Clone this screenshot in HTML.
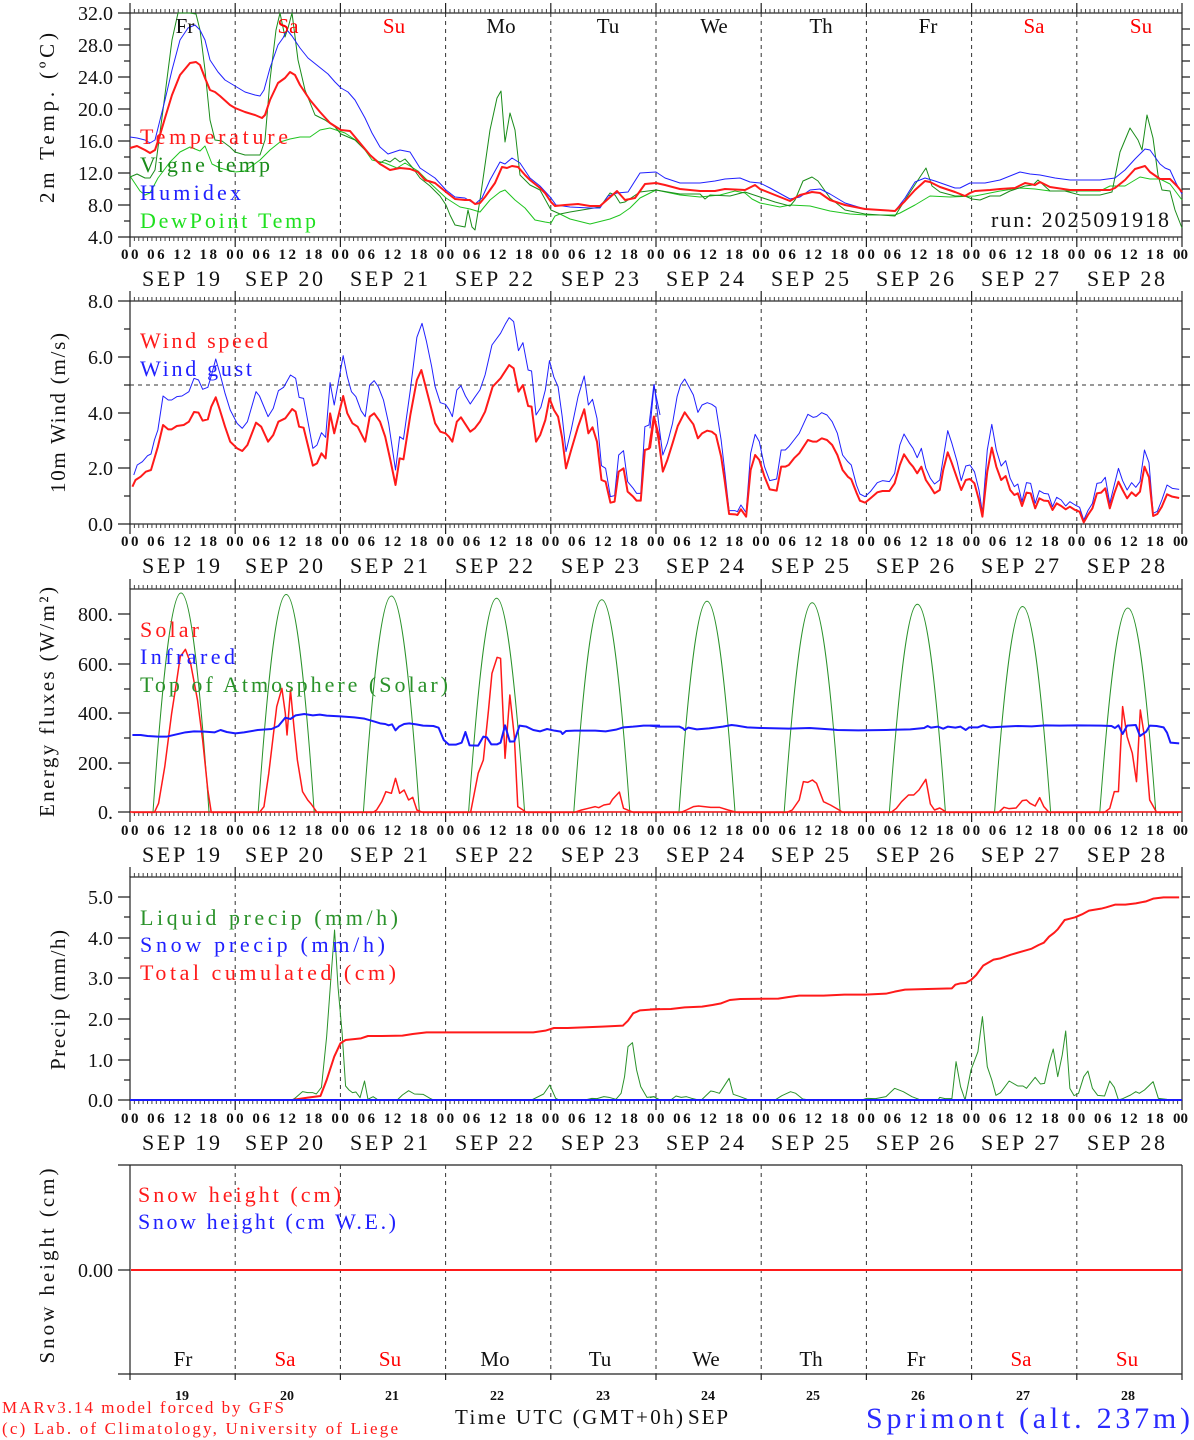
<!DOCTYPE html>
<html><head><meta charset="utf-8"><style>
html,body{margin:0;padding:0;background:#fff}
svg{display:block}
text{font-family:"Liberation Serif",serif}
.ve{vector-effect:non-scaling-stroke;fill:none;stroke-linejoin:round}
</style></head><body>
<svg width="1194" height="1440" viewBox="0 0 1194 1440" xmlns="http://www.w3.org/2000/svg">
<rect width="1194" height="1440" fill="#fff"/>

<g stroke="#222" stroke-width="1.2" fill="none">
<rect x="130" y="13" width="1052" height="224"/>
<rect x="130" y="301" width="1052" height="223"/>
<rect x="130" y="589" width="1052" height="223"/>
<rect x="130" y="877" width="1052" height="223"/>
<line x1="118" y1="1165" x2="1182" y2="1165"/>
<line x1="118" y1="1374" x2="1182" y2="1374"/>
<line x1="130" y1="1165" x2="130" y2="1380"/>
<line x1="1182" y1="1165" x2="1182" y2="1380"/>
</g>

<g stroke="#444" stroke-width="4" stroke-dasharray="1 3.3833">
<line x1="129.5" y1="11" x2="1183" y2="11"/><line x1="129.5" y1="239" x2="1183" y2="239"/>
<line x1="129.5" y1="299" x2="1183" y2="299"/><line x1="129.5" y1="526" x2="1183" y2="526"/>
<line x1="129.5" y1="587" x2="1183" y2="587"/><line x1="129.5" y1="814" x2="1183" y2="814"/>
<line x1="129.5" y1="875" x2="1183" y2="875"/><line x1="129.5" y1="1102" x2="1183" y2="1102"/>
</g>
<g stroke="#222" stroke-width="1.2">
<path d="M130,3V13M235.2,3V13M340.4,3V13M445.6,3V13M550.8,3V13M656,3V13M761.2,3V13M866.4,3V13M971.6,3V13M1076.8,3V13M1182,3V13
M130,237V247M235.2,237V247M340.4,237V247M445.6,237V247M550.8,237V247M656,237V247M761.2,237V247M866.4,237V247M971.6,237V247M1076.8,237V247M1182,237V247
M130,291V301M235.2,291V301M340.4,291V301M445.6,291V301M550.8,291V301M656,291V301M761.2,291V301M866.4,291V301M971.6,291V301M1076.8,291V301M1182,291V301
M130,524V534M235.2,524V534M340.4,524V534M445.6,524V534M550.8,524V534M656,524V534M761.2,524V534M866.4,524V534M971.6,524V534M1076.8,524V534M1182,524V534
M130,579V589M235.2,579V589M340.4,579V589M445.6,579V589M550.8,579V589M656,579V589M761.2,579V589M866.4,579V589M971.6,579V589M1076.8,579V589M1182,579V589
M130,812V822M235.2,812V822M340.4,812V822M445.6,812V822M550.8,812V822M656,812V822M761.2,812V822M866.4,812V822M971.6,812V822M1076.8,812V822M1182,812V822
M130,867V877M235.2,867V877M340.4,867V877M445.6,867V877M550.8,867V877M656,867V877M761.2,867V877M866.4,867V877M971.6,867V877M1076.8,867V877M1182,867V877
M130,1100V1110M235.2,1100V1110M340.4,1100V1110M445.6,1100V1110M550.8,1100V1110M656,1100V1110M761.2,1100V1110M866.4,1100V1110M971.6,1100V1110M1076.8,1100V1110M1182,1100V1110
M235.2,1374V1380M340.4,1374V1380M445.6,1374V1380M550.8,1374V1380M656,1374V1380M761.2,1374V1380M866.4,1374V1380M971.6,1374V1380M1076.8,1374V1380"/>
<path d="M118,13H130M124,29H130M118,45H130M124,61H130M118,77H130M124,93H130M118,109H130M124,125H130M118,141H130M124,157H130M118,173H130M124,189H130M118,205H130M124,221H130M118,237H130
M1182,29H1190M1182,45H1190M1182,61H1190M1182,77H1190M1182,93H1190M1182,109H1190M1182,125H1190M1182,141H1190M1182,157H1190M1182,173H1190M1182,189H1190M1182,205H1190M1182,221H1190
M118,301H130M124,329H130M118,357H130M124,385H130M118,413H130M124,440H130M118,468H130M124,496H130M118,524H130
M1182,329H1190M1182,357H1190M1182,385H1190M1182,413H1190M1182,440H1190M1182,468H1190M1182,496H1190
M124,639H130M118,614H130M118,664H130M124,689H130M118,713H130M124,738H130M118,763H130M124,788H130M118,812H130
M1182,614H1190M1182,639H1190M1182,664H1190M1182,689H1190M1182,713H1190M1182,738H1190M1182,763H1190M1182,788H1190
M118,897H130M124,917H130M118,938H130M124,958H130M118,978H130M124,999H130M118,1019H130M124,1039H130M118,1060H130M124,1080H130M118,1100H130
M1182,897H1190M1182,917H1190M1182,938H1190M1182,958H1190M1182,978H1190M1182,999H1190M1182,1019H1190M1182,1039H1190M1182,1060H1190M1182,1080H1190
M118,1270H130"/>
</g>

<g stroke="#333" stroke-width="1" stroke-dasharray="4 4">
<path d="M235.2,13V237M340.4,13V237M445.6,13V237M550.8,13V237M656,13V237M761.2,13V237M866.4,13V237M971.6,13V237M1076.8,13V237
M235.2,301V524M340.4,301V524M445.6,301V524M550.8,301V524M656,301V524M761.2,301V524M866.4,301V524M971.6,301V524M1076.8,301V524
M235.2,589V812M340.4,589V812M445.6,589V812M550.8,589V812M656,589V812M761.2,589V812M866.4,589V812M971.6,589V812M1076.8,589V812
M235.2,877V1100M340.4,877V1100M445.6,877V1100M550.8,877V1100M656,877V1100M761.2,877V1100M866.4,877V1100M971.6,877V1100M1076.8,877V1100
M235.2,1165V1374M340.4,1165V1374M445.6,1165V1374M550.8,1165V1374M656,1165V1374M761.2,1165V1374M866.4,1165V1374M971.6,1165V1374M1076.8,1165V1374
M130,385H1182"/>
</g>

<!-- PANEL 1 -->
<g fill="none" stroke-linejoin="round">
<polyline stroke="#1fc41f" stroke-width="1" points="130,176 140,191 145,195 150,193 158,178 170,162 180,152 190,147 200,151 205,146 212,164 220,168 235,172 245,171 260,160 270,150 280,142 290,139 300,137 310,137 320,130 330,128 345,133 360,143 372,160 385,163 397,168 405,163 418,171 430,183 446,198 460,207 470,209 480,212 490,200 500,192 505,190 515,200 525,208 535,220 545,222 551,223 555,216 560,214 570,219 590,224 610,219 620,215 630,208 640,198 656,190 680,195 700,197 720,195 735,191 745,193 752,199 760,203 780,207 790,205 810,206 830,211 850,214 866,215 895,215 900,213 915,205 930,196 950,197 975,196 1000,191 1020,188 1035,189 1050,191 1070,191 1100,191 1110,186 1125,186 1135,180 1140,177 1150,179 1160,179 1170,184 1182,200"/>
<polyline stroke="#1a8c1a" stroke-width="1" points="130,177 137,174 145,178 150,178 155,170 163,110 172,40 178,13 190,13 196,14 200,30 205,70 210,120 215,140 222,141 230,147 235,152 245,155 260,155 265,140 270,80 276,30 280,13 285,37 288,28 292,13 298,60 305,90 315,115 325,120 335,127 341,134 355,140 370,155 380,163 385,160 390,162 395,158 400,162 405,159 412,167 420,178 430,186 440,196 446,205 450,215 455,225 465,227 468,210 472,227 475,230 480,200 490,130 497,98 501,91 505,142 510,113 515,130 520,175 530,185 540,190 551,210 560,214 570,212 600,207 610,193 615,195 620,203 625,202 640,192 656,190 680,194 700,194 705,199 710,195 730,196 745,192 760,197 775,202 790,206 795,200 803,181 812,177 818,181 830,198 845,210 865,214 895,216 905,200 918,180 926,168 932,186 940,192 955,196 965,196 972,199 980,200 990,196 1000,196 1010,191 1025,186 1033,185 1038,180 1050,191 1065,191 1080,195 1100,195 1112,192 1120,152 1130,128 1138,140 1142,150 1147,115 1153,138 1158,175 1162,190 1170,191 1175,210 1182,228"/>
<polyline stroke="#2020ff" stroke-width="1" points="130,137 137,138 145,140 150,143 155,140 160,120 165,100 172,70 180,40 188,28 195,25 200,30 205,40 210,60 218,72 225,80 235,86 245,92 255,95 260,96 264,90 270,68 278,45 283,38 287,30 292,36 300,48 308,58 318,66 328,74 335,82 341,88 348,92 355,100 365,118 372,133 380,147 388,154 400,150 410,152 420,168 435,178 446,190 455,197 465,198 475,204 482,198 490,180 500,162 505,164 512,158 520,163 530,178 540,186 551,198 556,205 570,207 590,208 600,208 608,196 617,193 628,192 640,173 656,172 665,178 680,183 700,183 715,181 725,179 740,178 750,182 760,183 770,188 790,199 800,197 810,190 820,189 830,194 845,203 865,209 895,211 905,198 915,182 925,178 935,181 955,188 960,188 970,183 985,183 1000,180 1020,172 1030,174 1040,175 1055,178 1070,180 1100,180 1115,178 1125,170 1135,159 1140,154 1145,149 1150,150 1160,164 1165,168 1170,170 1176,183 1182,194"/>
<polyline stroke="#ff1a1a" stroke-width="2" points="130,148 137,146 145,150 150,153 155,150 160,135 165,118 172,95 180,75 190,63 196,62 200,65 205,78 210,90 215,92 220,96 230,105 235,108 245,112 255,115 262,118 265,115 270,100 278,83 285,78 290,72 295,75 300,85 310,100 320,112 330,123 341,130 350,131 360,143 370,155 380,164 390,170 400,168 410,169 418,172 425,180 435,183 446,192 455,199 465,200 470,200 475,204 480,203 485,197 495,183 502,167 507,168 512,166 518,167 525,175 530,180 540,188 545,193 551,202 555,206 565,205 578,204 590,206 600,206 608,199 617,191 625,200 635,198 645,184 656,183 665,185 680,189 700,191 715,191 725,189 745,190 755,185 760,189 770,193 790,201 800,195 812,192 820,193 830,200 845,205 865,209 895,211 905,201 915,190 925,181 930,182 940,187 955,192 965,196 970,193 975,191 990,190 1000,189 1015,188 1025,183 1035,185 1040,182 1050,187 1070,190 1110,190 1115,188 1125,180 1135,169 1145,166 1150,172 1160,179 1170,179 1177,186 1182,192"/>
</g>

<!-- PANEL 2 -->
<g transform="translate(120,290) scale(0.3444,0.33333)">
<polyline class="ve" stroke="#2020ff" stroke-width="1" points="40,555 50,525 65,515 80,497 90,492 100,450 110,420 125,318 140,330 150,330 165,320 180,318 200,305 215,265 228,270 240,298 255,292 265,258 278,207 290,250 305,310 320,360 340,400 355,415 370,395 395,305 405,318 430,380 445,355 460,302 475,292 495,255 510,265 520,322 533,325 560,475 572,465 585,428 597,442 610,278 622,345 648,197 660,260 672,305 685,320 700,362 712,380 725,285 738,272 750,290 765,330 780,400 800,540 812,440 823,448 843,300 862,142 877,100 890,155 905,230 915,290 930,338 945,343 955,358 965,380 978,300 990,287 1003,318 1017,342 1030,322 1045,300 1060,255 1080,165 1105,130 1120,100 1130,83 1143,95 1157,182 1170,158 1185,240 1195,243 1208,375 1222,352 1235,300 1247,212 1260,262 1272,290 1284,380 1295,485 1310,420 1330,320 1348,258 1360,345 1372,328 1385,385 1398,527 1410,535 1424,620 1436,617 1448,495 1462,482 1474,575 1490,595 1500,610 1512,610 1524,410 1536,405 1550,285 1568,375"/>
<polyline class="ve" stroke="#ff1a1a" stroke-width="2" points="36,590 45,570 60,560 75,545 90,540 110,470 125,405 140,418 150,418 165,408 185,405 200,395 215,366 228,368 240,392 255,388 265,350 278,322 290,360 305,410 320,455 340,475 355,483 370,465 395,398 410,410 430,455 445,435 460,395 480,385 500,357 510,365 520,410 533,413 560,527 572,520 585,490 597,505 610,370 622,430 648,318 660,370 675,400 690,410 712,455 725,380 738,370 755,395 770,440 785,510 800,585 812,505 823,508 843,375 862,270 875,240 890,300 905,360 915,400 930,425 945,430 955,440 965,455 978,395 990,382 1000,398 1017,425 1030,415 1045,395 1060,365 1082,290 1105,265 1130,225 1143,235 1157,305 1170,285 1185,348 1195,350 1208,455 1220,435 1235,390 1247,325 1260,360 1272,380 1284,445 1295,535 1310,480 1330,410 1348,358 1360,430 1372,412 1385,455 1398,570 1410,575 1424,638 1436,635 1448,545 1462,535 1474,605 1490,620 1500,632 1512,632 1524,480 1536,476 1550,380 1568,450"/>
</g>
<g transform="translate(650,290) scale(0.347,0.33333)">
<polyline class="ve" stroke="#2020ff" stroke-width="1" points="0,415 12,283 25,400 37,495 50,460 65,400 78,320 88,285 100,267 112,290 125,315 138,367 150,345 165,338 178,343 190,352 205,450 215,540 228,662 245,662 252,665 262,645 277,668 290,490 303,433 315,455 330,530 345,572 365,567 378,480 390,480 400,470 415,450 430,430 455,373 470,382 480,380 495,368 510,375 525,395 540,430 555,495 570,515 580,525 595,585 605,612 620,620 635,605 655,578 670,572 690,575 705,550 720,465 732,432 748,460 758,475 770,503 782,475 795,535 808,565 820,582 835,570 845,505 858,422 870,460 885,515 897,572 910,528 922,525 935,545 948,600 958,668 972,480 985,403 998,480 1012,528 1025,512 1038,565 1050,590 1060,582 1072,635 1085,578 1097,580 1110,640 1122,602 1135,610 1148,612 1160,650 1172,622 1185,630 1198,648 1210,635 1225,645 1238,652 1250,690 1262,662 1275,640 1288,580 1300,578 1312,562 1325,640 1338,585 1350,535 1362,572 1375,600 1388,578 1400,592 1412,575 1425,480 1438,518 1450,670 1462,664 1475,630 1490,585 1505,595 1525,598"/>
<polyline class="ve" stroke="#ff1a1a" stroke-width="2" points="0,475 12,380 25,450 37,545 50,510 65,460 80,408 100,367 112,385 125,403 138,445 150,430 165,422 178,425 190,435 205,500 215,570 228,672 245,673 252,675 262,658 277,680 290,540 303,495 315,510 330,560 345,598 365,602 378,530 390,530 400,525 415,505 430,490 455,450 470,455 480,455 495,445 510,450 525,465 540,495 555,540 570,560 580,568 595,608 605,632 620,638 635,625 655,607 670,603 690,603 705,580 720,525 732,493 748,518 758,530 770,550 782,530 795,570 808,590 820,610 835,600 845,540 858,487 870,520 885,565 897,600 910,570 922,567 935,580 948,630 958,680 972,545 985,473 998,530 1012,570 1025,558 1038,600 1050,615 1060,610 1072,648 1085,608 1097,610 1110,655 1122,625 1135,632 1148,633 1160,660 1172,640 1185,648 1198,658 1210,650 1225,660 1238,665 1250,697 1262,675 1275,655 1288,610 1300,608 1312,595 1325,655 1338,610 1350,575 1362,600 1375,625 1388,607 1400,618 1412,605 1425,530 1438,562 1450,678 1462,672 1475,650 1490,613 1505,620 1525,624"/>
</g>

<!-- PANEL 3 -->
<line x1="130" y1="812" x2="1182" y2="812" stroke="#ff1a1a" stroke-width="1.5"/>
<g fill="none" stroke="#2a922a" stroke-width="1">
<path d="M153,812c20.4,-292 35.6,-292 56,0"/>
<path d="M258.2,812c20.4,-290 35.6,-290 56,0"/>
<path d="M363.4,812c20.4,-288 35.6,-288 56,0"/>
<path d="M468.6,812c20.4,-285 35.6,-285 56,0"/>
<path d="M573.8,812c20.4,-283 35.6,-283 56,0"/>
<path d="M679,812c20.4,-281 35.6,-281 56,0"/>
<path d="M784.2,812c20.4,-279 35.6,-279 56,0"/>
<path d="M889.4,812c20.4,-277 35.6,-277 56,0"/>
<path d="M994.6,812c20.4,-274 35.6,-274 56,0"/>
<path d="M1099.8,812c20.4,-272 35.6,-272 56,0"/>
</g>
<g transform="translate(120,580) scale(0.3444,0.33333)">
<polyline class="ve" stroke="#ff1a1a" stroke-width="1.5" points="36,697 100,697 112,670 130,560 150,400 165,300 175,230 190,208 205,250 225,360 240,480 255,630 265,697 405,697 418,680 432,580 455,380 470,325 480,400 485,465 495,330 505,440 515,540 530,635 545,660 555,672 572,697 735,697 745,690 760,665 772,635 788,640 800,595 812,640 825,630 838,660 850,652 862,690 878,697 1018,697 1040,580 1055,540 1070,390 1080,280 1095,232 1105,235 1118,535 1132,345 1145,470 1155,680 1170,690 1180,697 1320,697 1340,690 1360,685 1380,680 1390,683 1405,675 1422,672 1430,658 1450,636 1462,685 1490,697 1568,697"/>
<polyline class="ve" stroke="#1a1aff" stroke-width="2" points="36,465 60,465 80,468 110,470 135,470 160,464 190,457 215,454 245,455 275,457 292,450 310,456 335,460 360,457 400,450 440,447 460,438 480,413 495,417 510,406 535,402 560,406 580,404 600,407 640,409 680,412 710,416 740,425 755,430 770,432 780,436 790,433 800,451 810,440 825,432 840,430 860,433 880,437 910,438 925,443 940,480 955,494 975,494 992,488 1003,456 1015,496 1040,497 1055,470 1065,472 1078,493 1095,493 1105,488 1118,436 1132,485 1145,484 1160,437 1180,440 1200,450 1220,454 1240,447 1262,452 1280,455 1285,462 1295,453 1320,452 1350,452 1380,452 1410,454 1440,449 1462,442 1490,440 1520,437 1568,437"/>
</g>
<g transform="translate(650,580) scale(0.347,0.33333)">
<polyline class="ve" stroke="#ff1a1a" stroke-width="1.5" points="0,697 90,697 105,690 125,680 140,678 175,682 200,682 225,690 250,697 395,697 410,690 430,660 442,605 455,607 468,600 480,610 500,665 520,675 545,690 555,697 695,697 710,685 725,665 745,645 760,645 775,630 795,598 808,672 820,690 835,684 855,697 1005,697 1020,682 1035,686 1055,684 1073,662 1085,660 1095,670 1110,678 1123,653 1135,680 1150,697 1310,697 1325,685 1338,635 1350,635 1362,380 1375,470 1390,520 1402,605 1413,390 1425,470 1440,660 1460,697 1525,697"/>
<polyline class="ve" stroke="#1a1aff" stroke-width="2" points="0,437 25,440 50,440 85,440 95,445 100,450 110,443 135,448 170,445 210,440 235,435 250,437 280,442 320,444 400,446 460,444 520,448 540,450 600,451 680,450 750,448 790,444 800,438 810,443 830,440 845,446 858,440 880,443 895,440 910,450 920,442 945,442 960,436 980,442 1020,440 1060,438 1100,439 1140,436 1180,437 1230,436 1300,437 1330,438 1340,444 1350,436 1362,462 1375,437 1400,435 1412,468 1430,455 1440,437 1460,438 1480,442 1490,458 1500,488 1525,490"/>
</g>

<!-- PANEL 4 -->
<g transform="translate(120,870) scale(0.3444,0.33333)">
<polyline class="ve" stroke="#2a922a" stroke-width="1" points="36,690 500,690 510,683 530,665 545,668 560,668 570,672 585,652 600,500 612,330 623,180 633,350 645,490 655,648 665,660 675,668 685,666 697,683 710,633 720,688 735,680 750,690 805,690 820,675 838,662 855,672 880,673 900,685 910,690 1195,690 1230,672 1248,645 1265,685 1275,690 1350,690 1370,685 1385,686 1405,680 1420,682 1440,688 1455,670 1465,620 1475,530 1488,518 1500,600 1512,650 1530,682 1550,680 1568,690"/>
<polyline class="ve" stroke="#ff1a1a" stroke-width="2" points="36,690 500,690 545,683 582,678 600,630 622,560 640,520 655,510 700,505 720,498 760,498 820,497 850,492 890,487 1200,487 1235,482 1260,474 1300,474 1400,470 1460,467 1475,452 1490,430 1510,421 1540,419 1568,417"/>
</g>
<g transform="translate(650,870) scale(0.347,0.33333)">
<polyline class="ve" stroke="#2a922a" stroke-width="1" points="0,683 12,680 25,690 60,690 75,678 90,682 105,680 120,685 140,690 150,688 175,663 185,665 200,670 228,625 240,673 260,680 280,688 310,690 360,690 380,677 405,665 420,670 440,687 460,690 610,690 625,685 650,686 680,680 705,655 730,665 755,680 775,688 830,690 835,682 850,686 870,686 882,575 895,650 908,690 925,600 945,545 958,440 972,590 985,630 997,676 1010,668 1035,633 1060,648 1075,648 1085,655 1110,622 1125,642 1137,640 1150,580 1162,537 1175,620 1188,555 1198,483 1210,655 1222,677 1235,670 1250,620 1262,603 1275,655 1290,676 1310,678 1325,633 1338,652 1350,690 1362,686 1385,675 1400,665 1410,670 1425,660 1450,635 1465,685 1490,688 1525,690"/>
<polyline class="ve" stroke="#ff1a1a" stroke-width="2" points="0,418 60,417 100,412 150,410 180,405 205,400 230,390 260,387 370,386 400,381 430,377 500,377 560,374 620,374 680,371 705,365 735,359 800,357 870,355 880,344 895,340 910,339 925,330 940,315 960,287 990,269 1010,265 1040,254 1080,242 1100,236 1120,225 1135,218 1150,200 1165,188 1175,178 1195,150 1210,146 1225,142 1245,133 1265,122 1300,116 1315,112 1340,104 1370,104 1400,100 1430,94 1450,86 1480,82 1525,82"/>
</g>
<line x1="130" y1="1100" x2="1182" y2="1100" stroke="#1a1aff" stroke-width="2"/>

<!-- PANEL 5 -->
<line x1="131" y1="1270" x2="1182" y2="1270" stroke="#ff1a1a" stroke-width="2"/>

<!-- TEXT -->
<g font-size="21" text-anchor="middle">
<text x="185" y="33" fill="#111">Fr</text><text x="288" y="33" fill="#f00">Sa</text><text x="394" y="33" fill="#f00">Su</text><text x="501" y="33" fill="#111">Mo</text><text x="608" y="33" fill="#111">Tu</text><text x="714" y="33" fill="#111">We</text><text x="821" y="33" fill="#111">Th</text><text x="928" y="33" fill="#111">Fr</text><text x="1034" y="33" fill="#f00">Sa</text><text x="1141" y="33" fill="#f00">Su</text>
<text x="183" y="1366" fill="#111">Fr</text><text x="285" y="1366" fill="#f00">Sa</text><text x="390" y="1366" fill="#f00">Su</text><text x="495" y="1366" fill="#111">Mo</text><text x="600" y="1366" fill="#111">Tu</text><text x="706" y="1366" fill="#111">We</text><text x="811" y="1366" fill="#111">Th</text><text x="916" y="1366" fill="#111">Fr</text><text x="1021" y="1366" fill="#f00">Sa</text><text x="1127" y="1366" fill="#f00">Su</text>
</g>
<g font-size="14" text-anchor="middle" fill="#111" font-weight="bold">
<text x="182" y="1400">19</text><text x="287" y="1400">20</text><text x="392" y="1400">21</text><text x="497" y="1400">22</text><text x="603" y="1400">23</text><text x="708" y="1400">24</text><text x="813" y="1400">25</text><text x="918" y="1400">26</text><text x="1023" y="1400">27</text><text x="1128" y="1400">28</text>
</g>

<g font-size="15" fill="#111" font-weight="bold">
<text x="121" y="259" textLength="96" lengthAdjust="spacing">00 06 12 18</text><text x="226.2" y="259" textLength="96" lengthAdjust="spacing">00 06 12 18</text><text x="331.4" y="259" textLength="96" lengthAdjust="spacing">00 06 12 18</text><text x="436.6" y="259" textLength="96" lengthAdjust="spacing">00 06 12 18</text><text x="541.8" y="259" textLength="96" lengthAdjust="spacing">00 06 12 18</text><text x="647" y="259" textLength="96" lengthAdjust="spacing">00 06 12 18</text><text x="752.2" y="259" textLength="96" lengthAdjust="spacing">00 06 12 18</text><text x="857.4" y="259" textLength="96" lengthAdjust="spacing">00 06 12 18</text><text x="962.6" y="259" textLength="96" lengthAdjust="spacing">00 06 12 18</text><text x="1067.8" y="259" textLength="96" lengthAdjust="spacing">00 06 12 18</text><text x="1173" y="259">00</text>
<text x="121" y="546" textLength="96" lengthAdjust="spacing">00 06 12 18</text><text x="226.2" y="546" textLength="96" lengthAdjust="spacing">00 06 12 18</text><text x="331.4" y="546" textLength="96" lengthAdjust="spacing">00 06 12 18</text><text x="436.6" y="546" textLength="96" lengthAdjust="spacing">00 06 12 18</text><text x="541.8" y="546" textLength="96" lengthAdjust="spacing">00 06 12 18</text><text x="647" y="546" textLength="96" lengthAdjust="spacing">00 06 12 18</text><text x="752.2" y="546" textLength="96" lengthAdjust="spacing">00 06 12 18</text><text x="857.4" y="546" textLength="96" lengthAdjust="spacing">00 06 12 18</text><text x="962.6" y="546" textLength="96" lengthAdjust="spacing">00 06 12 18</text><text x="1067.8" y="546" textLength="96" lengthAdjust="spacing">00 06 12 18</text><text x="1173" y="546">00</text>
<text x="121" y="835" textLength="96" lengthAdjust="spacing">00 06 12 18</text><text x="226.2" y="835" textLength="96" lengthAdjust="spacing">00 06 12 18</text><text x="331.4" y="835" textLength="96" lengthAdjust="spacing">00 06 12 18</text><text x="436.6" y="835" textLength="96" lengthAdjust="spacing">00 06 12 18</text><text x="541.8" y="835" textLength="96" lengthAdjust="spacing">00 06 12 18</text><text x="647" y="835" textLength="96" lengthAdjust="spacing">00 06 12 18</text><text x="752.2" y="835" textLength="96" lengthAdjust="spacing">00 06 12 18</text><text x="857.4" y="835" textLength="96" lengthAdjust="spacing">00 06 12 18</text><text x="962.6" y="835" textLength="96" lengthAdjust="spacing">00 06 12 18</text><text x="1067.8" y="835" textLength="96" lengthAdjust="spacing">00 06 12 18</text><text x="1173" y="835">00</text>
<text x="121" y="1123" textLength="96" lengthAdjust="spacing">00 06 12 18</text><text x="226.2" y="1123" textLength="96" lengthAdjust="spacing">00 06 12 18</text><text x="331.4" y="1123" textLength="96" lengthAdjust="spacing">00 06 12 18</text><text x="436.6" y="1123" textLength="96" lengthAdjust="spacing">00 06 12 18</text><text x="541.8" y="1123" textLength="96" lengthAdjust="spacing">00 06 12 18</text><text x="647" y="1123" textLength="96" lengthAdjust="spacing">00 06 12 18</text><text x="752.2" y="1123" textLength="96" lengthAdjust="spacing">00 06 12 18</text><text x="857.4" y="1123" textLength="96" lengthAdjust="spacing">00 06 12 18</text><text x="962.6" y="1123" textLength="96" lengthAdjust="spacing">00 06 12 18</text><text x="1067.8" y="1123" textLength="96" lengthAdjust="spacing">00 06 12 18</text><text x="1173" y="1123">00</text>
</g>

<g font-size="22" fill="#111">
<text x="142" y="286" textLength="78" lengthAdjust="spacing">SEP 19</text><text x="245" y="286" textLength="78" lengthAdjust="spacing">SEP 20</text><text x="350" y="286" textLength="78" lengthAdjust="spacing">SEP 21</text><text x="455" y="286" textLength="78" lengthAdjust="spacing">SEP 22</text><text x="561" y="286" textLength="78" lengthAdjust="spacing">SEP 23</text><text x="666" y="286" textLength="78" lengthAdjust="spacing">SEP 24</text><text x="771" y="286" textLength="78" lengthAdjust="spacing">SEP 25</text><text x="876" y="286" textLength="78" lengthAdjust="spacing">SEP 26</text><text x="981" y="286" textLength="78" lengthAdjust="spacing">SEP 27</text><text x="1087" y="286" textLength="78" lengthAdjust="spacing">SEP 28</text>
<text x="142" y="573" textLength="78" lengthAdjust="spacing">SEP 19</text><text x="245" y="573" textLength="78" lengthAdjust="spacing">SEP 20</text><text x="350" y="573" textLength="78" lengthAdjust="spacing">SEP 21</text><text x="455" y="573" textLength="78" lengthAdjust="spacing">SEP 22</text><text x="561" y="573" textLength="78" lengthAdjust="spacing">SEP 23</text><text x="666" y="573" textLength="78" lengthAdjust="spacing">SEP 24</text><text x="771" y="573" textLength="78" lengthAdjust="spacing">SEP 25</text><text x="876" y="573" textLength="78" lengthAdjust="spacing">SEP 26</text><text x="981" y="573" textLength="78" lengthAdjust="spacing">SEP 27</text><text x="1087" y="573" textLength="78" lengthAdjust="spacing">SEP 28</text>
<text x="142" y="862" textLength="78" lengthAdjust="spacing">SEP 19</text><text x="245" y="862" textLength="78" lengthAdjust="spacing">SEP 20</text><text x="350" y="862" textLength="78" lengthAdjust="spacing">SEP 21</text><text x="455" y="862" textLength="78" lengthAdjust="spacing">SEP 22</text><text x="561" y="862" textLength="78" lengthAdjust="spacing">SEP 23</text><text x="666" y="862" textLength="78" lengthAdjust="spacing">SEP 24</text><text x="771" y="862" textLength="78" lengthAdjust="spacing">SEP 25</text><text x="876" y="862" textLength="78" lengthAdjust="spacing">SEP 26</text><text x="981" y="862" textLength="78" lengthAdjust="spacing">SEP 27</text><text x="1087" y="862" textLength="78" lengthAdjust="spacing">SEP 28</text>
<text x="142" y="1150" textLength="78" lengthAdjust="spacing">SEP 19</text><text x="245" y="1150" textLength="78" lengthAdjust="spacing">SEP 20</text><text x="350" y="1150" textLength="78" lengthAdjust="spacing">SEP 21</text><text x="455" y="1150" textLength="78" lengthAdjust="spacing">SEP 22</text><text x="561" y="1150" textLength="78" lengthAdjust="spacing">SEP 23</text><text x="666" y="1150" textLength="78" lengthAdjust="spacing">SEP 24</text><text x="771" y="1150" textLength="78" lengthAdjust="spacing">SEP 25</text><text x="876" y="1150" textLength="78" lengthAdjust="spacing">SEP 26</text><text x="981" y="1150" textLength="78" lengthAdjust="spacing">SEP 27</text><text x="1087" y="1150" textLength="78" lengthAdjust="spacing">SEP 28</text>
</g>

<g font-size="20" fill="#111" text-anchor="end">
<text x="113" y="20">32.0</text><text x="113" y="52">28.0</text><text x="113" y="84">24.0</text><text x="113" y="116">20.0</text><text x="113" y="148">16.0</text><text x="113" y="180">12.0</text><text x="113" y="212">8.0</text><text x="113" y="244">4.0</text>
<text x="113" y="308">8.0</text><text x="113" y="364">6.0</text><text x="113" y="420">4.0</text><text x="113" y="475">2.0</text><text x="113" y="531">0.0</text>
<text x="113" y="621">800.</text><text x="113" y="671">600.</text><text x="113" y="720">400.</text><text x="113" y="770">200.</text><text x="113" y="819">0.</text>
<text x="113" y="904">5.0</text><text x="113" y="945">4.0</text><text x="113" y="985">3.0</text><text x="113" y="1026">2.0</text><text x="113" y="1067">1.0</text><text x="113" y="1107">0.0</text>
<text x="113" y="1277">0.00</text>
</g>

<g font-size="21" fill="#111" text-anchor="middle">
<text transform="translate(54,118) rotate(-90)" textLength="170" lengthAdjust="spacing">2m Temp. (ºC)</text>
<text transform="translate(65,413) rotate(-90)" textLength="160" lengthAdjust="spacing">10m Wind (m/s)</text>
<text transform="translate(54,702) rotate(-90)" textLength="230" lengthAdjust="spacing">Energy fluxes (W/m²)</text>
<text transform="translate(65,1000) rotate(-90)" textLength="140" lengthAdjust="spacing">Precip (mm/h)</text>
<text transform="translate(54,1266) rotate(-90)" textLength="195" lengthAdjust="spacing">Snow height (cm)</text>
</g>

<g font-size="22">
<text x="140" y="144" fill="#ff1a1a" textLength="148" lengthAdjust="spacing">Temperature</text>
<text x="140" y="172" fill="#1a8c1a" textLength="130" lengthAdjust="spacing">Vigne temp</text>
<text x="140" y="200" fill="#2020ff" textLength="101" lengthAdjust="spacing">Humidex</text>
<text x="140" y="228" fill="#1fe01f" textLength="176" lengthAdjust="spacing">DewPoint Temp</text>
<text x="991" y="227" fill="#111" textLength="178" lengthAdjust="spacing">run: 2025091918</text>
<text x="140" y="348" fill="#ff1a1a" textLength="128" lengthAdjust="spacing">Wind speed</text>
<text x="140" y="376" fill="#2020ff" textLength="112" lengthAdjust="spacing">Wind gust</text>
<text x="140" y="637" fill="#ff1a1a" textLength="59" lengthAdjust="spacing">Solar</text>
<text x="140" y="664" fill="#2020ff" textLength="95" lengthAdjust="spacing">Infrared</text>
<text x="140" y="692" fill="#2a922a" textLength="308" lengthAdjust="spacing">Top of Atmosphere (Solar)</text>
<text x="140" y="925" fill="#2a922a" textLength="258" lengthAdjust="spacing">Liquid precip (mm/h)</text>
<text x="140" y="952" fill="#2020ff" textLength="245" lengthAdjust="spacing">Snow precip (mm/h)</text>
<text x="140" y="980" fill="#ff1a1a" textLength="256" lengthAdjust="spacing">Total cumulated (cm)</text>
<text x="138" y="1202" fill="#ff1a1a" textLength="203" lengthAdjust="spacing">Snow height (cm)</text>
<text x="138" y="1229" fill="#2020ff" textLength="258" lengthAdjust="spacing">Snow height (cm W.E.)</text>
</g>

<text x="455" y="1424" font-size="21" fill="#111" textLength="228" lengthAdjust="spacing">Time UTC (GMT+0h)</text>
<text x="688" y="1424" font-size="21" fill="#111" textLength="40" lengthAdjust="spacing">SEP</text>
<text x="2" y="1413" font-size="17" fill="#ff1a1a" textLength="282" lengthAdjust="spacing">MARv3.14 model forced by GFS</text>
<text x="2" y="1434" font-size="17" fill="#ff1a1a" textLength="396" lengthAdjust="spacing">(c) Lab. of Climatology, University of Liege</text>
<text x="866" y="1428" font-size="30" fill="#2a2aff" textLength="324" lengthAdjust="spacing">Sprimont (alt. 237m)</text>
</svg>
</body></html>
